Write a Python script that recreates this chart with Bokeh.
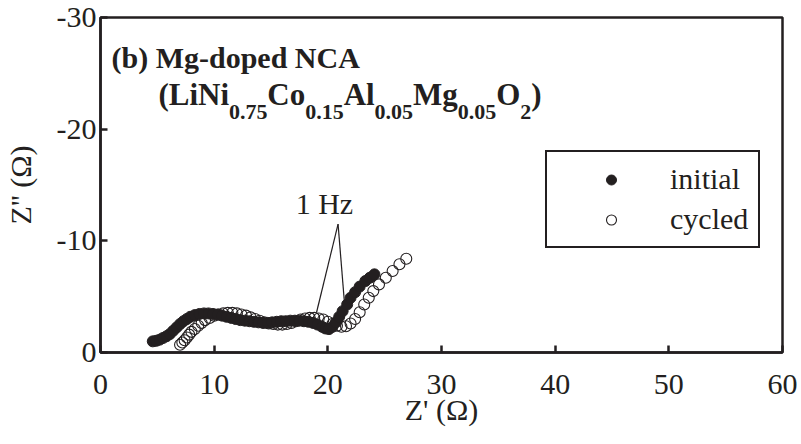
from bokeh.plotting import figure
from bokeh.models import Range1d, FixedTicker, Legend, LegendItem, Label
from bokeh.embed import file_html
from bokeh.resources import INLINE

# ---------------- data (Z' in ohm, Z'' in ohm) ----------------
zre_initial = [4.6, 4.9, 5.2, 5.5, 5.8, 6.1, 6.4, 6.7, 7.0, 7.3, 7.6, 7.9, 8.3, 8.7, 9.1,
               9.5, 9.9, 10.3, 10.7, 11.1, 11.5, 11.9, 12.3, 12.7, 13.1, 13.5, 13.9, 14.3,
               14.7, 15.1, 15.5, 15.9, 16.3, 16.7, 17.1, 17.5, 17.9, 18.3, 18.7, 19.1, 19.5,
               19.8, 20.1, 20.4, 20.7, 21.0, 21.3, 21.7, 22.0, 22.4, 22.8, 23.3, 23.7, 24.1]
zim_initial = [-1.0, -1.05, -1.15, -1.3, -1.45, -1.65, -1.95, -2.25, -2.55, -2.8, -3.0, -3.2,
               -3.35, -3.45, -3.5, -3.5, -3.45, -3.4, -3.3, -3.2, -3.1, -3.0, -2.9, -2.85,
               -2.8, -2.75, -2.7, -2.65, -2.65, -2.7, -2.75, -2.8, -2.8, -2.85, -2.85, -2.85,
               -2.8, -2.75, -2.65, -2.5, -2.3, -2.15, -2.1, -2.3, -2.7, -3.2, -3.7, -4.3,
               -4.9, -5.4, -5.9, -6.4, -6.7, -7.0]

zre_cycled = [7.0, 7.2, 7.4, 7.6, 7.8, 8.0, 8.3, 8.6, 8.9, 9.2, 9.6, 10.0, 10.4, 10.8, 11.2,
              11.6, 12.0, 12.4, 12.8, 13.2, 13.6, 14.0, 14.4, 14.8, 15.2, 15.6, 16.0, 16.4,
              16.8, 17.2, 17.6, 18.0, 18.4, 18.8, 19.2, 19.6, 20.0, 20.4, 20.8, 21.2, 21.6,
              22.0, 22.4, 22.8, 23.2, 23.6, 24.0, 24.5, 25.1, 25.7, 26.3, 26.9]
zim_cycled = [-0.7, -0.9, -1.1, -1.35, -1.6, -1.85, -2.1, -2.4, -2.65, -2.9, -3.1, -3.3, -3.4,
              -3.5, -3.55, -3.55, -3.5, -3.4, -3.3, -3.15, -3.0, -2.85, -2.7, -2.6, -2.55,
              -2.5, -2.5, -2.55, -2.65, -2.8, -2.95, -3.05, -3.1, -3.1, -3.05, -2.95, -2.75,
              -2.55, -2.4, -2.3, -2.35, -2.6, -3.0, -3.6, -4.3, -4.9, -5.5, -6.1, -6.7, -7.3,
              -7.9, -8.4]

series_labels = ["initial", "cycled"]
x_ticks = [0, 10, 20, 30, 40, 50, 60]
x_tick_labels = ["0", "10", "20", "30", "40", "50", "60"]
y_ticks = [0, -10, -20, -30]
y_tick_labels = ["0", "-10", "-20", "-30"]

# "1 Hz" annotation: label position, apex of leader lines, and the two marked points
hz_label = "1 Hz"
hz_text_pos = (19.7, -13.3)
hz_apex = (20.9, -11.5)
hz_points_x = [19.0, 21.45]
hz_points_y = [-3.56, -4.6]

title_line1 = "(b) Mg-doped NCA"
formula_parts = [("(LiNi", False), ("0.75", True), ("Co", False), ("0.15", True),
                 ("Al", False), ("0.05", True), ("Mg", False), ("0.05", True),
                 ("O", False), ("2", True), (")", False)]

# ---------------- layout ----------------
W, H = 801, 444
FL, FR, FT, FB = 99, 782, 17, 352
X0, X1, Y0, Y1 = 0, 60, 0, -30
INK = "#231f20"
FONT = "Liberation Serif"


def dx(px):
    return X0 + (px - FL) / (FR - FL) * (X1 - X0)


def dy(py):
    return Y0 + (FB - py) / (FB - FT) * (Y1 - Y0)


p = figure(width=W, height=H, output_backend="svg", toolbar_location=None,
           x_range=Range1d(X0, X1), y_range=Range1d(Y0, Y1),
           min_border_left=FL, min_border_right=W - FR,
           min_border_top=FT, min_border_bottom=H - FB)

p.xgrid.visible = False
p.ygrid.visible = False
p.outline_line_color = INK
p.outline_line_width = 2.5
p.outline_line_alpha = 1.0
p.background_fill_color = "white"
p.border_fill_color = "white"

p.xaxis.ticker = FixedTicker(ticks=x_ticks)
p.yaxis.ticker = FixedTicker(ticks=y_ticks)
p.xaxis.major_label_overrides = dict(zip(x_ticks, x_tick_labels))
p.yaxis.major_label_overrides = dict(zip(y_ticks, y_tick_labels))
for ax in (p.xaxis, p.yaxis):
    ax.axis_line_color = INK
    ax.axis_line_width = 2.5
    ax.major_tick_line_color = INK
    ax.major_tick_line_width = 2.5
    ax.major_tick_in = 7
    ax.major_tick_out = 0
    ax.minor_tick_line_color = None
    ax.major_label_text_font = FONT
    ax.major_label_text_font_size = "30px"
    ax.major_label_text_color = INK
    ax.axis_label_text_font = FONT
    ax.axis_label_text_font_size = "30px"
    ax.axis_label_text_font_style = "normal"
    ax.axis_label_text_color = INK

p.xaxis.axis_label = "Z' (Ω)"
p.yaxis.axis_label = "Z'' (Ω)"
p.xaxis.major_label_standoff = 22
p.yaxis.major_label_standoff = 4
p.xaxis.axis_label_standoff = -4
p.yaxis.axis_label_standoff = 17

# leader lines for "1 Hz"
p.segment(x0=[hz_apex[0]] * 2, y0=[hz_apex[1]] * 2, x1=hz_points_x, y1=hz_points_y,
          line_color=INK, line_width=1.2)

r_cyc = p.scatter(zre_cycled, zim_cycled, size=11, marker="circle",
                  fill_color=None, line_color=INK, line_width=1.1)
r_init = p.scatter(zre_initial, zim_initial, size=11, marker="circle",
                   fill_color=INK, line_color=INK, line_width=1)

p.add_layout(Label(x=hz_text_pos[0], y=hz_text_pos[1], text=hz_label,
                   text_font=FONT, text_font_size="30px", text_color=INK,
                   text_align="center", text_baseline="middle"))

# title lines
p.add_layout(Label(x=dx(110), y=dy(57), text=title_line1, text_font=FONT,
                   text_font_style="bold", text_font_size="30px", text_color=INK,
                   text_baseline="alphabetic"))

EM = {"(": 0.333, ")": 0.333, "L": 0.667, "i": 0.278, "N": 0.722, "C": 0.722,
      "o": 0.5, "A": 0.722, "l": 0.278, "M": 0.944, "g": 0.5, "O": 0.778,
      ".": 0.25}
MAIN_FS, SUB_FS = 31, 22
cx = 157.0
for txt, is_sub in formula_parts:
    fs = SUB_FS if is_sub else MAIN_FS
    base = 111 if is_sub else 94
    p.add_layout(Label(x=dx(cx), y=dy(base), text=txt, text_font=FONT,
                       text_font_style="bold", text_font_size=f"{fs}px",
                       text_color=INK, text_baseline="alphabetic"))
    cx += sum(EM.get(ch, 0.5) for ch in txt) * fs

legend = Legend(items=[LegendItem(label=series_labels[0], renderers=[r_init]),
                       LegendItem(label=series_labels[1], renderers=[r_cyc])],
                location=(544 - FL, FB - 248))
legend.border_line_color = INK
legend.border_line_width = 2.5
legend.border_line_alpha = 1.0
legend.background_fill_color = "white"
legend.background_fill_alpha = 1.0
legend.label_text_font = FONT
legend.label_text_font_size = "30px"
legend.label_text_color = INK
legend.padding = 10
legend.margin = 0
legend.glyph_width = 108
legend.glyph_height = 25
legend.label_standoff = 5
legend.spacing = 6
p.add_layout(legend)

open("out.html", "w").write(file_html(p, INLINE))
